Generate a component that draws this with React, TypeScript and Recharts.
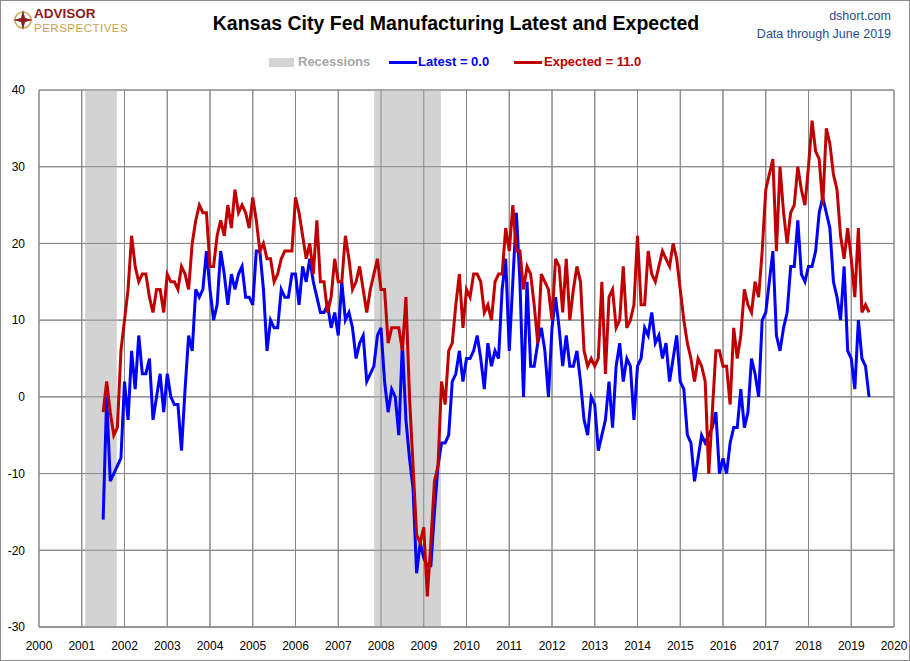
import { LineChart, Line, XAxis, YAxis, CartesianGrid, ReferenceArea, ReferenceLine } from 'recharts';

// monthly readings, July 2001 .. June 2019
const startYear = 2001;
const startMonth = 6; // 0-based, July

const latest = [
	-16, 0, -11, -10, -9, -8, // 2001
	2, -3, 6, 1, 8, 3, 3, 5, -3, 0, 3, -2, // 2002
	3, 0, -1, -1, -7, 1, 8, 6, 14, 13, 14, 19, // 2003
	14, 10, 12, 19, 16, 12, 16, 14, 16, 17, 13, 13, // 2004
	12, 19, 19, 14, 6, 10, 9, 9, 14, 13, 13, 16, // 2005
	16, 12, 17, 15, 18, 15, 13, 11, 11, 12, 9, 11, // 2006
	8, 15, 10, 11, 9, 5, 7, 8, 2, 3, 4, 8, // 2007
	9, 2, -2, 1, 0, -5, 7, -3, -8, -12, -23, -19, // 2008
	-21, -22, -22, -15, -9, -6, -6, -5, 2, 3, 6, 2, // 2009
	5, 5, 6, 8, 5, 1, 7, 4, 6, 5, 14, 18, // 2010
	6, 15, 24, 15, 0, 15, 4, 4, 7, 9, 6, 0, // 2011
	9, 13, 9, 4, 8, 4, 4, 6, 2, -3, -5, 0, // 2012
	-1, -7, -5, -3, 2, -4, 4, 7, 2, 5, 4, -3, // 2013
	4, 5, 9, 8, 11, 7, 8, 5, 7, 2, 5, 8, // 2014
	2, 1, -5, -6, -11, -8, -5, -6, -5, -4, -2, -10, // 2015
	-8, -10, -6, -4, -4, 1, -4, -2, 5, 3, 0, 10, // 2016
	11, 15, 19, 8, 6, 9, 11, 17, 17, 23, 16, 15, // 2017
	17, 17, 19, 24, 26, 24, 22, 15, 13, 10, 17, 6, // 2018
	5, 1, 10, 5, 4, 0, // 2019
];

const expected = [
	-2, 2, -2, -5, -4, 6, // 2001
	10, 14, 21, 17, 15, 16, 16, 13, 11, 14, 14, 11, // 2002
	16, 15, 15, 14, 17, 16, 14, 20, 23, 25, 24, 24, // 2003
	17, 17, 21, 23, 21, 25, 22, 27, 24, 25, 24, 22, // 2004
	26, 23, 19, 20, 18, 18, 15, 16, 18, 19, 19, 19, // 2005
	26, 24, 21, 18, 20, 16, 23, 15, 15, 11, 13, 18, // 2006
	15, 15, 21, 18, 14, 15, 17, 14, 11, 14, 16, 18, // 2007
	14, 14, 7, 9, 9, 9, 6, 13, 0, -9, -18, -19, // 2008
	-17, -26, -19, -11, -9, 2, -1, 6, 7, 12, 16, 9, // 2009
	14, 13, 16, 16, 15, 11, 12, 10, 15, 16, 16, 22, // 2010
	19, 25, 19, 19, 14, 17, 16, 12, 7, 16, 15, 14, // 2011
	10, 18, 17, 11, 18, 10, 14, 17, 15, 6, 4, 5, // 2012
	4, 5, 15, 3, 13, 14, 9, 10, 17, 9, 10, 12, // 2013
	21, 12, 12, 19, 16, 15, 17, 19, 18, 17, 20, 18, // 2014
	14, 10, 7, 5, 2, 5, 4, 2, -10, -2, 6, 6, // 2015
	4, 4, -1, 9, 5, 8, 14, 12, 11, 15, 13, 19, // 2016
	27, 29, 31, 19, 30, 24, 20, 24, 25, 30, 27, 25, // 2017
	30, 36, 32, 31, 25, 35, 33, 29, 27, 21, 18, 22, // 2018
	18, 13, 22, 11, 12, 11, // 2019
];

const yearTicks = [
	2000, 2001, 2002, 2003, 2004, 2005, 2006, 2007, 2008, 2009, 2010,
	2011, 2012, 2013, 2014, 2015, 2016, 2017, 2018, 2019, 2020,
];
const valueTicks = [-30, -20, -10, 0, 10, 20, 30, 40];

const recessions = [
	{ from: 2001.08, to: 2001.82 },
	{ from: 2007.84, to: 2009.4 },
];

const chartData = latest.map((value, i) => ({
	t: startYear + (startMonth + i) / 12,
	latest: value,
	expected: expected[i],
}));

const lastLatest = latest[latest.length - 1];
const lastExpected = expected[expected.length - 1];

const font = "'Liberation Sans', Arial, sans-serif";
const gridColor = '#888888';

const Logo = () => (
	<div style={{ position: 'absolute', left: 10, top: 6, width: 130, height: 30 }}>
		<svg width={22} height={22} style={{ position: 'absolute', left: 1, top: 2 }}>
			<circle cx={11} cy={11} r={8} fill='none' stroke='#c9a24c' strokeWidth={1.5} />
			<polygon points='11,1 13,9 21,11 13,13 11,21 9,13 1,11 9,9' fill='#8b1c23' />
		</svg>
		<div style={{ position: 'absolute', left: 23, top: -1, lineHeight: '15px', fontFamily: font, fontWeight: 'bold', fontSize: 13.5, color: '#8b1c23' }}>
			ADVISOR
		</div>
		<div style={{ position: 'absolute', left: 23, top: 15, lineHeight: '13px', fontFamily: font, fontSize: 11.5, letterSpacing: 0.5, color: '#c9a24c' }}>
			PERSPECTIVES
		</div>
	</div>
);

const LegendRow = () => (
	<div style={{ position: 'absolute', left: 268, top: 52, height: 18, fontFamily: font, fontWeight: 'bold', fontSize: 13, whiteSpace: 'nowrap' }}>
		<div style={{ position: 'absolute', left: 0, top: 5, width: 25, height: 9, background: '#d3d3d3' }} />
		<div style={{ position: 'absolute', left: 29, top: 1, color: '#a6a6a6' }}>Recessions</div>
		<div style={{ position: 'absolute', left: 120, top: 8, width: 28, height: 3, background: '#0000ff' }} />
		<div style={{ position: 'absolute', left: 149, top: 1, color: '#0000ff' }}>Latest = {lastLatest.toFixed(1)}</div>
		<div style={{ position: 'absolute', left: 245, top: 8, width: 28, height: 3, background: '#c00000' }} />
		<div style={{ position: 'absolute', left: 275, top: 1, color: '#c00000' }}>Expected = {lastExpected.toFixed(1)}</div>
	</div>
);

export default function App() {
	return (
		<div
			style={{
				position: 'absolute',
				left: 0,
				top: 0,
				width: 910,
				height: 661,
				background: '#fff',
				boxSizing: 'border-box',
				border: '1px solid #8c8c8c',
				overflow: 'hidden',
			}}
		>
			<Logo />
			<div
				style={{
					position: 'absolute',
					left: 0,
					width: 910,
					top: 11,
					textAlign: 'center',
					fontFamily: font,
					fontWeight: 'bold',
					fontSize: 19.5,
					color: '#000',
				}}
			>
				Kansas City Fed Manufacturing Latest and Expected
			</div>
			<div style={{ position: 'absolute', right: 18, top: 6, textAlign: 'right', fontFamily: font, fontSize: 12.5, color: '#1f4e8c', lineHeight: '18px' }}>
				<div>dshort.com</div>
				<div>Data through June 2019</div>
			</div>
			<LegendRow />
			<div style={{ position: 'absolute', left: -1, top: -1 }}>
				<LineChart
					width={910}
					height={661}
					data={chartData}
					margin={{ top: 90, right: 16, left: 0, bottom: 0 }}
				>
					<CartesianGrid stroke={gridColor} strokeWidth={1} />
					{recessions.map((r) => (
						<ReferenceArea
							key={r.from}
							x1={r.from}
							x2={r.to}
							y1={-30}
							y2={40}
							fill='#d3d3d3'
							fillOpacity={1}
							stroke='none'
						/>
					))}
					{/* grid shows through the recession bands */}
					{yearTicks.map((y) => (
						<ReferenceLine key={'x' + y} x={y} stroke={gridColor} strokeWidth={1} />
					))}
					{valueTicks.map((v) => (
						<ReferenceLine key={'y' + v} y={v} stroke={gridColor} strokeWidth={1} />
					))}
					<XAxis
						type='number'
						dataKey='t'
						domain={[2000, 2020]}
						ticks={yearTicks}
						allowDataOverflow
						height={34}
						tickLine={false}
						axisLine={{ stroke: gridColor }}
						tick={{ fill: '#000', fontSize: 12, fontFamily: font }}
						tickMargin={8}
						interval={0}
					/>
					<YAxis
						type='number'
						domain={[-30, 40]}
						ticks={valueTicks}
						width={39}
						tickLine={false}
						axisLine={false}
						tick={{ fill: '#000', fontSize: 12, fontFamily: font }}
						tickMargin={8}
						interval={0}
					/>
					<Line
						type='linear'
						dataKey='latest'
						stroke='#0000ff'
						strokeWidth={3}
						dot={false}
						isAnimationActive={false}
					/>
					<Line
						type='linear'
						dataKey='expected'
						stroke='#c00000'
						strokeWidth={3}
						dot={false}
						isAnimationActive={false}
					/>
				</LineChart>
			</div>
		</div>
	);
}
